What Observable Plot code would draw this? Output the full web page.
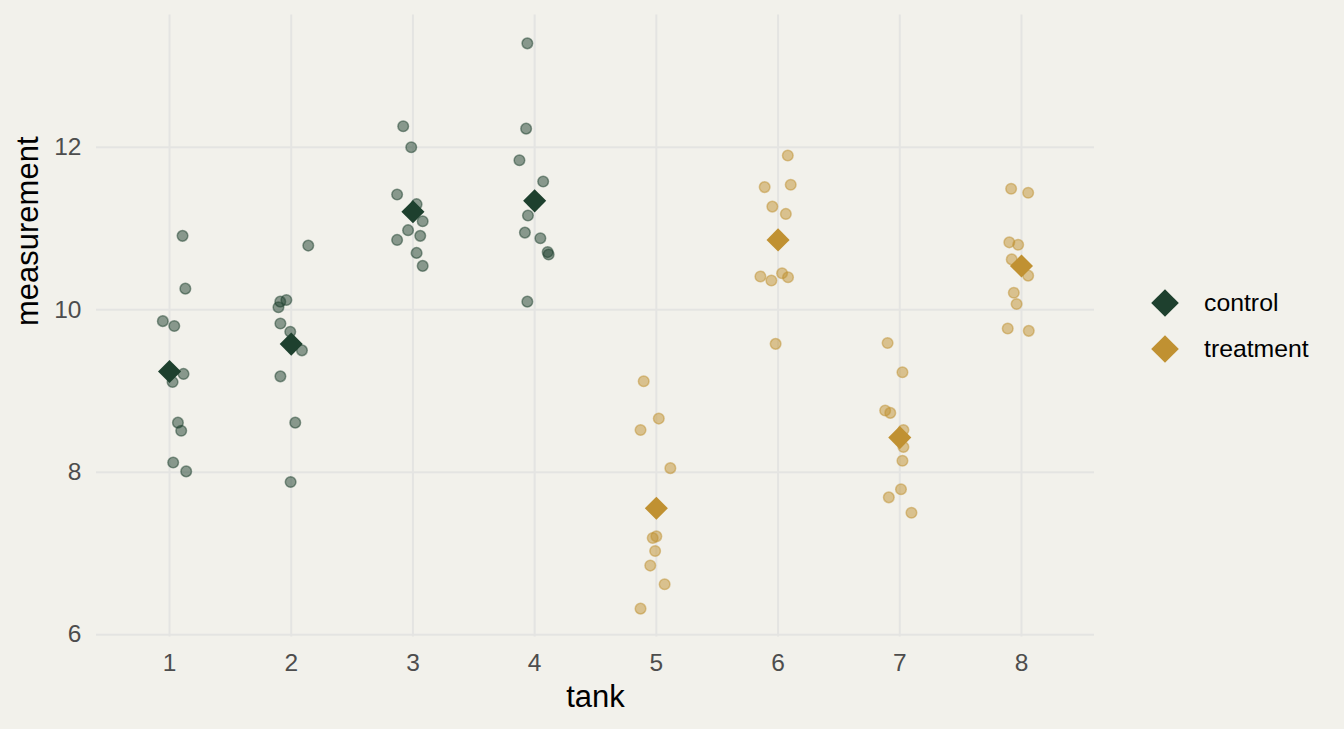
<!DOCTYPE html>
<html>
<head>
<meta charset="utf-8">
<script src="https://cdn.jsdelivr.net/npm/d3@7"></script>
<script src="https://cdn.jsdelivr.net/npm/@observablehq/plot@0.6"></script>
<style>
  html, body { margin: 0; padding: 0; background: #F2F1EB; }
  #wrap { position: relative; width: 1344px; height: 729px; font-family: "Liberation Sans", Arial, sans-serif; }
  #legend { position: absolute; left: 1150px; top: 280px; }
  .item { display: flex; align-items: center; height: 46px; font-size: 24.8px; color: #000; }
  .item svg { width: 30px; height: 30px; margin-right: 24px; }
</style>
</head>
<body>
<div id="wrap"></div>
<script>
// ---- data ----
const tanks = [1, 2, 3, 4, 5, 6, 7, 8];
const tankGroup = ["control", "control", "control", "control", "treatment", "treatment", "treatment", "treatment"];
const groups = ["control", "treatment"];
const groupColors = ["#1E402E", "#C09132"];
const yTicks = [6, 8, 10, 12];

const tank1 = [10.91, 10.26, 9.86, 9.80, 9.21, 9.11, 8.61, 8.51, 8.12, 8.01];
const tank2 = [10.79, 10.10, 10.12, 10.03, 9.83, 9.73, 9.50, 9.18, 8.61, 7.88];
const tank3 = [12.26, 12.00, 11.42, 11.30, 11.09, 10.98, 10.91, 10.86, 10.70, 10.54];
const tank4 = [13.28, 12.23, 11.84, 11.58, 11.16, 10.95, 10.88, 10.71, 10.68, 10.10];
const tank5 = [9.12, 8.66, 8.52, 8.05, 7.21, 7.19, 7.03, 6.85, 6.62, 6.32];
const tank6 = [11.90, 11.51, 11.54, 11.27, 11.18, 10.41, 10.36, 10.45, 10.40, 9.58];
const tank7 = [9.59, 9.23, 8.76, 8.73, 8.52, 8.31, 8.14, 7.79, 7.69, 7.50];
const tank8 = [11.49, 11.44, 10.83, 10.80, 10.62, 10.42, 10.21, 10.07, 9.77, 9.74];

// horizontal jitter offsets (in tank units)
const jitter1 = [0.107, 0.13, -0.055, 0.039, 0.115, 0.025, 0.069, 0.096, 0.03, 0.137];
const jitter2 = [0.14, -0.09, -0.04, -0.105, -0.089, -0.008, 0.088, -0.089, 0.033, -0.005];
const jitter3 = [-0.08, -0.014, -0.13, 0.03, 0.08, -0.04, 0.06, -0.13, 0.03, 0.08];
const jitter4 = [-0.06, -0.07, -0.125, 0.07, -0.055, -0.08, 0.047, 0.107, 0.115, -0.06];
const jitter5 = [-0.104, 0.02, -0.13, 0.115, 0, -0.03, -0.01, -0.05, 0.068, -0.13];
const jitter6 = [0.08, -0.11, 0.104, -0.047, 0.064, -0.145, -0.055, 0.033, 0.082, -0.02];
const jitter7 = [-0.1, 0.022, -0.12, -0.078, 0.03, 0.03, 0.022, 0.01, -0.09, 0.096];
const jitter8 = [-0.085, 0.055, -0.1, -0.027, -0.08, 0.055, -0.063, -0.04, -0.113, 0.06];

const valuesByTank = [tank1, tank2, tank3, tank4, tank5, tank6, tank7, tank8];
const jitterByTank = [jitter1, jitter2, jitter3, jitter4, jitter5, jitter6, jitter7, jitter8];

const points = [];
tanks.forEach((t, i) => {
  valuesByTank[i].forEach((v, j) => {
    points.push({tank: t, group: tankGroup[i], value: v, jitter: jitterByTank[i][j]});
  });
});

const [ymin, ymax] = d3.extent(points, d => d.value);
const pad = (ymax - ymin) * 0.05;

const font = "Liberation Sans, Arial, sans-serif";

const chart = Plot.plot({
  width: 1344,
  height: 729,
  marginLeft: 96,
  marginRight: 250,
  marginTop: 14.6,
  marginBottom: 92.6,
  style: {background: "transparent", fontFamily: font},
  x: {type: "linear", domain: [0.4, 8.6]},
  y: {domain: [ymin - pad, ymax + pad]},
  color: {domain: groups, range: groupColors},
  marks: [
    Plot.gridX(tanks, {stroke: "#E4E4E2", strokeOpacity: 1, strokeWidth: 2}),
    Plot.gridY(yTicks, {stroke: "#E4E4E2", strokeOpacity: 1, strokeWidth: 2}),
    Plot.axisX(tanks, {tickSize: 0, tickPadding: 16.6, fontSize: 24.5, fill: "#4D4D4D", tickFormat: d => String(d), label: null}),
    Plot.axisY(yTicks, {tickSize: 0, tickPadding: 15, fontSize: 24.5, fill: "#4D4D4D", tickFormat: d => String(d), label: null}),
    Plot.dot(points, {
      x: d => d.tank + d.jitter,
      y: "value",
      r: 5.3,
      fill: "group",
      fillOpacity: 0.5,
      stroke: "group",
      strokeOpacity: 0.5,
      strokeWidth: 1.5
    }),
    Plot.dot(points, Plot.groupX({y: "mean"}, {
      x: "tank",
      y: "value",
      fill: "group",
      symbol: "diamond2",
      r: 10.4
    })),
    Plot.text(["tank"], {frameAnchor: "bottom", dy: 60.6, fontSize: 31, fill: "#000", lineAnchor: "middle"}),
    Plot.text(["measurement"], {frameAnchor: "left", dx: -68.6, rotate: -90, fontSize: 31, fill: "#000", lineAnchor: "middle"})
  ]
});

const wrap = document.getElementById("wrap");
wrap.appendChild(chart);

const legend = document.createElement("div");
legend.id = "legend";
groups.forEach((g, i) => {
  const item = document.createElement("div");
  item.className = "item";
  item.innerHTML = `<svg viewBox="-15 -15 30 30"><path d="M0,-13.8L13.8,0L0,13.8L-13.8,0Z" fill="${groupColors[i]}"/></svg><span>${g}</span>`;
  legend.appendChild(item);
});
wrap.appendChild(legend);
</script>
</body>
</html>
